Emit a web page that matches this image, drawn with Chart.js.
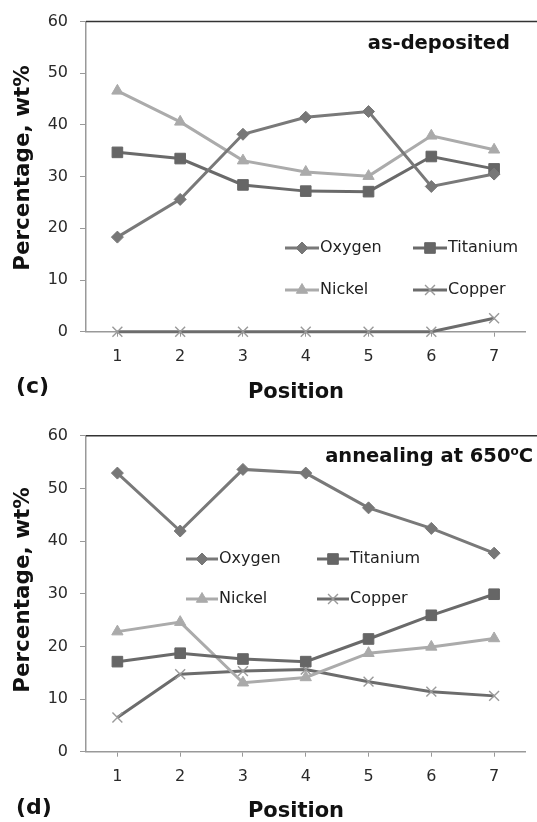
<!DOCTYPE html>
<html>
<head>
<meta charset="utf-8">
<script src="https://cdn.jsdelivr.net/npm/chart.js@4"></script>
<style>
  body { margin: 0; background: #fff; }
  .panel { position: absolute; left: 0; width: 537px; }
  .tag { position: absolute; left: 16px; font: bold 22px "DejaVu Sans", sans-serif; color: #111; }
</style>
</head>
<body>
<div class="panel" style="top:0;height:408px"><canvas id="chartC"></canvas></div>
<div class="panel" style="top:408px;height:414px"><canvas id="chartD"></canvas></div>
<div class="tag" style="top:373px">(c)</div>
<div class="tag" style="top:794px">(d)</div>

<script>
const positions = ['1', '2', '3', '4', '5', '6', '7']
const yTicks = [0, 10, 20, 30, 40, 50, 60]

// as-deposited
const oxygenDep = [18.3, 25.6, 38.2, 41.5, 42.6, 28.1, 30.5]
const titaniumDep = [34.7, 33.5, 28.4, 27.2, 27.1, 33.9, 31.5]
const nickelDep = [46.6, 40.6, 33.1, 30.9, 30.1, 37.9, 35.2]
const copperDep = [0, 0, 0, 0, 0, 0, 2.6]

// annealing at 650 C
const oxygenAnn = [52.9, 41.9, 53.6, 52.9, 46.3, 42.4, 37.7]
const titaniumAnn = [17.1, 18.7, 17.6, 17.1, 21.4, 25.9, 29.9]
const nickelAnn = [22.8, 24.6, 13.1, 14.1, 18.7, 19.9, 21.5]
const copperAnn = [6.5, 14.7, 15.3, 15.6, 13.3, 11.4, 10.6]

const FONT = '"DejaVu Sans", sans-serif'

function makeSets(oxygen, titanium, nickel, copper) {
    return [
        { label: 'Oxygen', data: oxygen, borderColor: '#797979', backgroundColor: '#777',
          pointStyle: 'rectRot', pointRadius: 6, pointBorderColor: '#777' },
        { label: 'Titanium', data: titanium, borderColor: '#6a6a6a', backgroundColor: '#666',
          pointStyle: 'rect', pointRadius: 7.5, pointBorderColor: '#666' },
        { label: 'Nickel', data: nickel, borderColor: '#ababab', backgroundColor: '#aaa',
          pointStyle: 'triangle', pointRadius: 6.5, pointBorderColor: '#aaa' },
        { label: 'Copper', data: copper, borderColor: '#6c6c6c', backgroundColor: '#9a9a9a',
          pointStyle: 'crossRot', pointRadius: 7, pointBorderColor: '#9a9a9a', pointBorderWidth: 1.4 }
    ].map(ds => Object.assign({ borderWidth: 3, tension: 0, clip: false, pointBorderWidth: 1 }, ds))
}

// top frame line, axis titles, legend and caption inside the plot
const panelDecor = {
    id: 'panelDecor',
    afterDraw(chart, args, opts) {
        const ctx = chart.ctx
        const area = chart.chartArea
        ctx.save()
        ctx.strokeStyle = '#333'
        ctx.lineWidth = 1.5
        ctx.beginPath()
        ctx.moveTo(area.left, area.top)
        ctx.lineTo(chart.width, area.top)
        ctx.stroke()

        // axis titles
        ctx.fillStyle = '#111'
        ctx.textAlign = 'center'
        ctx.textBaseline = 'middle'
        ctx.font = 'bold 21px ' + FONT
        ctx.fillText('Position', opts.xTitle[0], opts.xTitle[1])
        ctx.save()
        ctx.translate(opts.yTitle[0], opts.yTitle[1])
        ctx.rotate(-Math.PI / 2)
        ctx.font = 'bold 21.5px ' + FONT
        ctx.fillText('Percentage, wt%', 0, 0)
        ctx.restore()

        // legend, two columns
        ctx.font = '16px ' + FONT
        ctx.textBaseline = 'middle'
        chart.data.datasets.forEach((ds, i) => {
            const x = opts.cols[i % 2]
            const y = opts.rows[Math.floor(i / 2)]
            ctx.strokeStyle = ds.borderColor
            ctx.lineWidth = 3
            ctx.beginPath()
            ctx.moveTo(x, y)
            ctx.lineTo(x + opts.lineLen, y)
            ctx.stroke()
            ctx.fillStyle = ds.backgroundColor
            ctx.strokeStyle = ds.pointBorderColor
            ctx.lineWidth = ds.pointBorderWidth
            Chart.helpers.drawPoint(ctx, {
                pointStyle: ds.pointStyle, radius: ds.pointRadius, rotation: 0,
                borderWidth: ds.pointBorderWidth
            }, x + opts.lineLen / 2, y)
            ctx.fillStyle = '#222'
            ctx.textAlign = 'left'
            ctx.fillText(ds.label, x + opts.lineLen + 1, y)
        })

        // caption, with optional superscript part
        ctx.fillStyle = '#111'
        ctx.textBaseline = 'alphabetic'
        ctx.textAlign = 'left'
        const big = 'bold 19.5px ' + FONT
        const small = 'bold 12px ' + FONT
        const parts = opts.caption
        let w = 0
        parts.forEach(p => { ctx.font = p.sup ? small : big; w += ctx.measureText(p.text).width })
        let cx = opts.captionRight - w
        parts.forEach(p => {
            ctx.font = p.sup ? small : big
            ctx.fillText(p.text, cx, opts.captionY - (p.sup ? 7 : 0))
            cx += ctx.measureText(p.text).width
        })
        ctx.restore()
    }
}

function makeChart(id, sets, cfg) {
    return new Chart(document.getElementById(id), {
        type: 'line',
        data: { labels: positions, datasets: sets },
        options: {
            responsive: true,
            maintainAspectRatio: false,
            animation: false,
            layout: { padding: { top: cfg.top, right: 11.5, left: 0, bottom: 0 } },
            plugins: {
                legend: { display: false },
                tooltip: { enabled: false },
                panelDecor: cfg.decor
            },
            scales: {
                x: {
                    offset: true,
                    grid: { display: true, drawOnChartArea: false, offset: false, tickLength: 5, color: '#999' },
                    border: { color: '#999', width: 1.5 },
                    ticks: { padding: 11, color: '#2a2a2a', font: { family: FONT, size: 16 } },
                    afterFit(scale) { scale.height = cfg.xHeight }
                },
                y: {
                    min: 0, max: 60,
                    afterBuildTicks(scale) { scale.ticks = yTicks.map(v => ({ value: v })) },
                    grid: { display: true, drawOnChartArea: false, tickLength: 6, color: '#999' },
                    border: { color: '#999', width: 1.5 },
                    ticks: { padding: 12, color: '#2a2a2a', font: { family: FONT, size: 16 } },
                    afterFit(scale) { scale.width = 86 }
                }
            }
        },
        plugins: [panelDecor]
    })
}

makeChart('chartC', makeSets(oxygenDep, titaniumDep, nickelDep, copperDep), {
    top: 17, xHeight: 76.3,
    decor: {
        xTitle: [296, 393], yTitle: [23, 168],
        cols: [285, 413], rows: [248, 290], lineLen: 34,
        caption: [{ text: 'as-deposited' }], captionRight: 510, captionY: 49
    }
})

makeChart('chartD', makeSets(oxygenAnn, titaniumAnn, nickelAnn, copperAnn), {
    top: 27.7, xHeight: 70.3,
    decor: {
        xTitle: [296, 404], yTitle: [23, 182],
        cols: [186, 317], rows: [151, 191], lineLen: 32,
        caption: [{ text: 'annealing at 650' }, { text: 'o', sup: true }, { text: 'C' }],
        captionRight: 533, captionY: 54
    }
})
</script>
</body>
</html>
